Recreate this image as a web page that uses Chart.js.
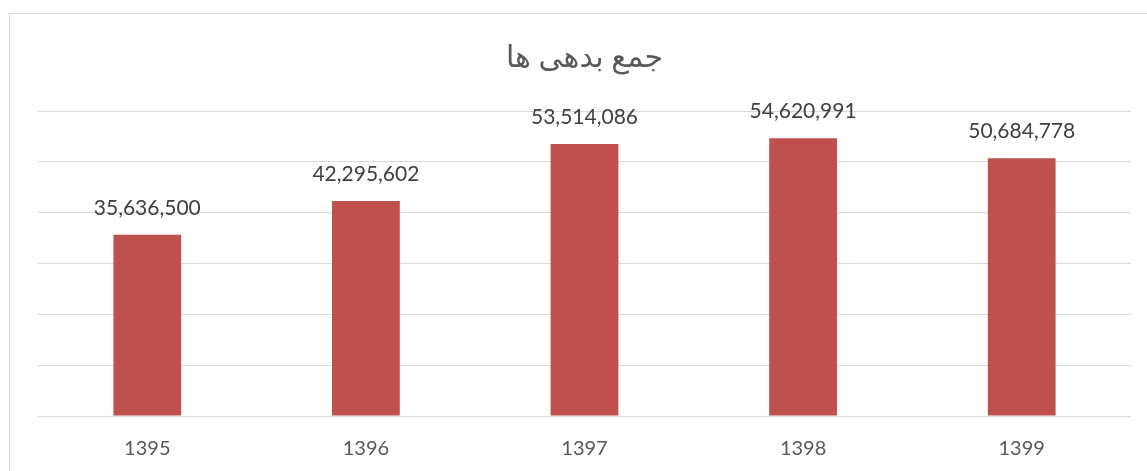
<!DOCTYPE html>
<html>
<head>
<meta charset="utf-8">
<script src="https://cdn.jsdelivr.net/npm/chart.js@4"></script>
<style>
  html, body { margin:0; padding:0; background:#fff; }
  .wrap { position:relative; width:1147px; height:471px; overflow:hidden; }
  .frame { position:absolute; left:9px; top:13px; width:1200px; height:500px;
           border-left:1px solid #d9d9d9; border-top:1px solid #d9d9d9; }
  canvas { position:absolute; left:0; top:0; }
</style>
</head>
<body>
<div class="wrap">
  <div class="frame"></div>
  <canvas id="debtChart" width="1147" height="471"></canvas>
</div>
<script>
/* ── data ── */
const YEARS  = ['1395','1396','1397','1398','1399'];
const DEBTS  = [35636500, 42295602, 53514086, 54620991, 50684778];
const TITLE  = 'جمع بدهی ها';
const FONT   = 'Lato, "DejaVu Sans", sans-serif';

/* ── value labels above bars ── */
const barLabels = {
  id:'barLabels',
  afterDatasetsDraw(chart) {
    const ctx = chart.ctx;
    const meta = chart.getDatasetMeta(0);
    ctx.save();
    ctx.font = '21px ' + FONT;
    ctx.fillStyle = '#404040';
    ctx.textAlign = 'center';
    ctx.textBaseline = 'middle';
    meta.data.forEach((bar, i) => {
      ctx.fillText(DEBTS[i].toLocaleString('en-US'), bar.x, bar.y - 27);
    });
    ctx.restore();
  }
};

const ctx = document.getElementById('debtChart').getContext('2d');
new Chart(ctx, {
  type:'bar',
  data:{
    labels: YEARS,
    datasets:[{ data:DEBTS, backgroundColor:'#C0504D', borderWidth:0, barPercentage:0.31, categoryPercentage:1 }]
  },
  options:{
    responsive:false, animation:false,
    layout:{ padding:{ left:38, right:16, top:0, bottom:0 } },
    plugins:{
      legend:{ display:false },
      tooltip:{ enabled:false },
      title:{ display:true, text:TITLE, color:'#595959', font:{ family:FONT, size:30, weight:'normal' }, padding:{ top:39, bottom:36 } }
    },
    scales:{
      x:{ grid:{ display:false, drawTicks:false }, border:{ display:false },
          ticks:{ color:'#595959', font:{ family:FONT, size:20 }, padding:21 },
          afterFit(scale) { scale.height = 55; } },
      y:{ min:0, max:60000000, grid:{ color:'#d9d9d9', lineWidth:1, drawTicks:false }, border:{ display:false },
          ticks:{ display:false, stepSize:10000000 } }
    }
  },
  plugins:[barLabels]
});
</script>
</body>
</html>
